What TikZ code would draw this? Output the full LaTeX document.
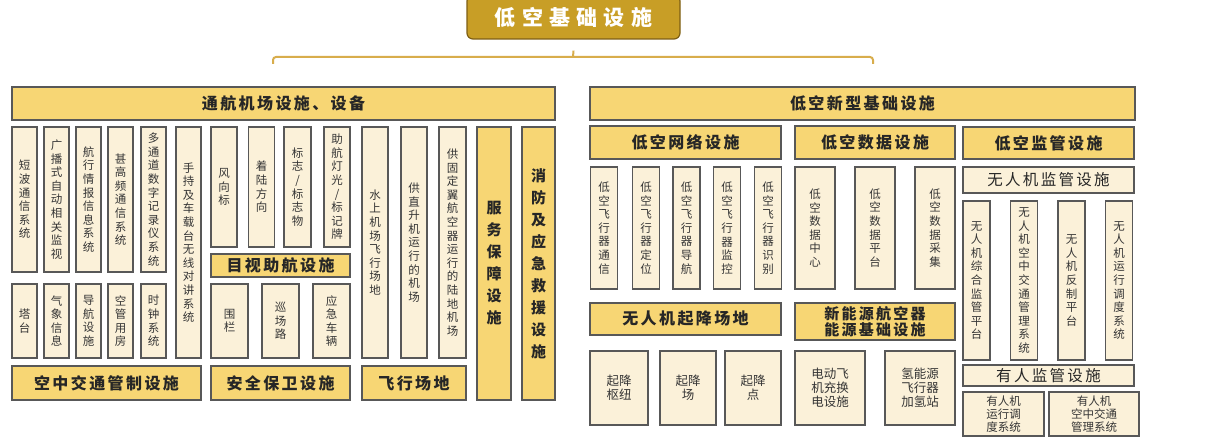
\documentclass[tikz,border=0pt]{standalone}
\usepackage{fontspec}
\setmainfont{Noto Sans CJK SC}
\newfontfamily\hdfont{Noto Sans CJK SC}[LetterSpace=15]
\newfontfamily\ttlfont{Noto Sans CJK SC}[LetterSpace=30]
\usepackage{tikz}
\definecolor{ttlgold}{HTML}{C89E26}
\definecolor{ttlbdr}{HTML}{7E5F14}
\definecolor{hdyel}{HTML}{F7D674}
\definecolor{cellcr}{HTML}{FBF1D9}
\definecolor{bdr}{HTML}{585858}
\definecolor{brkgold}{HTML}{D8AD4C}
\definecolor{txtdk}{HTML}{262626}
\definecolor{txtgr}{HTML}{353535}
% one character per line
\newcommand{\vt}[1]{\vtA#1\relax}
\def\vtA#1{#1\vtB}
\def\vtB#1{\ifx\relax#1\else\\#1\expandafter\vtB\fi}

\begin{document}
\begin{tikzpicture}[
  x=1pt, y=-1pt,
  title/.style={draw=ttlbdr, line width=1.2pt, fill=ttlgold, rounded corners=6pt, text=white, inner sep=0pt, font=\ttlfont\bfseries\fontsize{21}{23}\selectfont},
  hd/.style={draw=bdr, line width=1.1pt, fill=hdyel, text=txtdk, inner sep=0pt, align=center, font=\hdfont\bfseries\fontsize{16}{17}\selectfont},
  vhd/.style={hd, font=\bfseries\fontsize{15}{22}\selectfont},
  lbar/.style={draw=bdr, line width=1.1pt, fill=cellcr, text=txtdk, inner sep=0pt, font=\hdfont\fontsize{15.5}{17}\selectfont},
  cell/.style={draw=bdr, line width=1.1pt, fill=cellcr, text=txtgr, inner sep=0pt, align=center, font=\fontsize{11.5}{13.6}\selectfont},
  brk/.style={draw=brkgold, line width=2pt, rounded corners=3pt}
]
\useasboundingbox[fill=white] (0,0) rectangle (1222,446);

% top
\node[title, minimum width=213, minimum height=44] (top) at (573.5,17) {低空基础设施};
\coordinate (bl) at (273,64);
\coordinate (br) at (873,64);
\coordinate (bm) at (573,57);
\draw[brk] (bl) |- (bm) -| (br);
\draw[brk] ([yshift=-11pt]top.south) -- (bm);

% left: general aviation airport
\node[hd, minimum width=543, minimum height=33] (gah) at (283.5,103.5) {通航机场设施、设备};

\node[cell, minimum width=25, minimum height=145] (dbtx) at (24.5,199.5) {\vt{短波通信系统}};
\node[cell, minimum width=25, minimum height=145] (gbzd) at (56.5,199.5) {\vt{广播式自动相关监视}};
\node[cell, minimum width=25, minimum height=145] (hxqb) at (88.5,199.5) {\vt{航行情报信息系统}};
\node[cell, minimum width=25, minimum height=145] (sgp) at (120.5,199.5) {\vt{甚高频通信系统}};
\node[cell, minimum width=25, minimum height=145] (dtd) at (153.5,199.5) {\vt{多通道数字记录仪系统}};
\node[cell, minimum width=25, minimum height=231] (scdj) at (188.5,242.5) {\vt{手持及车载台无线对讲系统}};
\node[cell, minimum width=25, minimum height=74] (tt) at (24.5,321) {\vt{塔台}};
\node[cell, minimum width=25, minimum height=74] (qx) at (56.5,321) {\vt{气象信息}};
\node[cell, minimum width=25, minimum height=74] (dh) at (88.5,321) {\vt{导航设施}};
\node[cell, minimum width=25, minimum height=74] (kgyf) at (120.5,321) {\vt{空管用房}};
\node[cell, minimum width=25, minimum height=74] (sz) at (153.5,321) {\vt{时钟系统}};
\node[hd, minimum width=189, minimum height=34] (atc) at (106.5,383) {空中交通管制设施};

\node[cell, minimum width=26, minimum height=120] (fxb) at (224,187) {\vt{风向标}};
\node[cell, minimum width=26, minimum height=120] (zlfx) at (261.5,187) {\vt{着陆方向}};
\node[cell, minimum width=27, minimum height=120] (bz) at (297.5,187) {\vt{标志/标志物}};
\node[cell, minimum width=26, minimum height=120] (zhdg) at (337,187) {\vt{助航灯光/标记牌}};
\node[hd, minimum width=139, minimum height=23] (mszh) at (280.5,265.5) {目视助航设施};
\node[cell, minimum width=37, minimum height=74] (wl) at (229.5,321) {\vt{围栏}};
\node[cell, minimum width=37, minimum height=74] (xcl) at (280.5,321) {\vt{巡场路}};
\node[cell, minimum width=37, minimum height=74] (yjcl) at (331.5,321) {\vt{应急车辆}};
\node[hd, minimum width=139, minimum height=34] (aqbw) at (280.5,383) {安全保卫设施};

\node[cell, minimum width=26, minimum height=231] (sjc) at (375,242.5) {\vt{水上机场飞行场地}};
\node[cell, minimum width=26, minimum height=231] (zsj) at (414,242.5) {\vt{供直升机运行的机场}};
\node[cell, minimum width=27, minimum height=231] (gdy) at (452.5,242.5) {\vt{供固定翼航空器运行的陆地机场}};
\node[hd, minimum width=104, minimum height=34] (fxcd) at (414,383) {飞行场地};
\node[vhd, minimum width=34, minimum height=273] (fwbz) at (494,263.5) {\vt{服务保障设施}};
\node[vhd, minimum width=33, minimum height=273] (xfjy) at (538.5,263.5) {\vt{消防及应急救援设施}};

% right: new low-altitude infrastructure
\node[hd, minimum width=545, minimum height=33] (xxjc) at (862.5,103.5) {低空新型基础设施};

\node[hd, minimum width=191, minimum height=33] (wlss) at (685.5,142.5) {低空网络设施};
\node[cell, minimum width=27, minimum height=122] (txx) at (604,228) {\vt{低空飞行器通信}};
\node[cell, minimum width=27, minimum height=122] (dwx) at (646,228) {\vt{低空飞行器定位}};
\node[cell, minimum width=27, minimum height=122] (dhx) at (686.5,228) {\vt{低空飞行器导航}};
\node[cell, minimum width=27, minimum height=122] (jkx) at (727,228) {\vt{低空飞行器监控}};
\node[cell, minimum width=27, minimum height=122] (sbx) at (768,228) {\vt{低空飞行器识别}};
\node[hd, minimum width=191, minimum height=32] (qjcd) at (685.5,319) {无人机起降场地};
\node[cell, minimum width=58, minimum height=74, font=\fontsize{12.5}{14}\selectfont] (qjsn) at (619,388) {起降\\枢纽};
\node[cell, minimum width=56, minimum height=74, font=\fontsize{12.5}{14}\selectfont] (qjc) at (688,388) {起降\\场};
\node[cell, minimum width=56, minimum height=74, font=\fontsize{12.5}{14}\selectfont] (qjd) at (753,388) {起降\\点};

\node[hd, minimum width=160, minimum height=33] (sjss) at (875,142.5) {低空数据设施};
\node[cell, minimum width=40, minimum height=122] (sjzx) at (815,228) {\vt{低空数据中心}};
\node[cell, minimum width=40, minimum height=122] (sjpt) at (875,228) {\vt{低空数据平台}};
\node[cell, minimum width=40, minimum height=122] (sjcj) at (935,228) {\vt{低空数据采集}};
\node[hd, minimum width=160, minimum height=37, font=\hdfont\bfseries\fontsize{15}{16}\selectfont] (xny) at (875,321.5) {新能源航空器\\能源基础设施};
\node[cell, minimum width=70, minimum height=74, font=\fontsize{12.5}{14}\selectfont] (cdss) at (830,388) {电动飞\\机充换\\电设施};
\node[cell, minimum width=70, minimum height=74, font=\fontsize{12.5}{14}\selectfont] (jqz) at (920,388) {氢能源\\飞行器\\加氢站};

\node[hd, minimum width=171, minimum height=32] (jgss) at (1048.5,143) {低空监管设施};
\node[lbar, minimum width=171, minimum height=26] (wrjg) at (1048.5,180) {无人机监管设施};
\node[cell, minimum width=27, minimum height=159] (zhjg) at (976.5,280.5) {\vt{无人机综合监管平台}};
\node[cell, minimum width=27, minimum height=159] (kzjt) at (1024,280.5) {\vt{无人机空中交通管理系统}};
\node[cell, minimum width=27, minimum height=159] (fzpt) at (1071.5,280.5) {\vt{无人机反制平台}};
\node[cell, minimum width=27, minimum height=159] (yxdd) at (1119,280.5) {\vt{无人机运行调度系统}};
\node[lbar, minimum width=171, minimum height=21] (yrjg) at (1048.5,375.5) {有人监管设施};
\node[cell, minimum width=81, minimum height=44, font=\fontsize{11.5}{13}\selectfont] (yrdd) at (1003.5,414) {有人机\\运行调\\度系统};
\node[cell, minimum width=90, minimum height=44, font=\fontsize{11.5}{13}\selectfont] (yrkg) at (1094,414) {有人机\\空中交通\\管理系统};
\end{tikzpicture}
\end{document}
